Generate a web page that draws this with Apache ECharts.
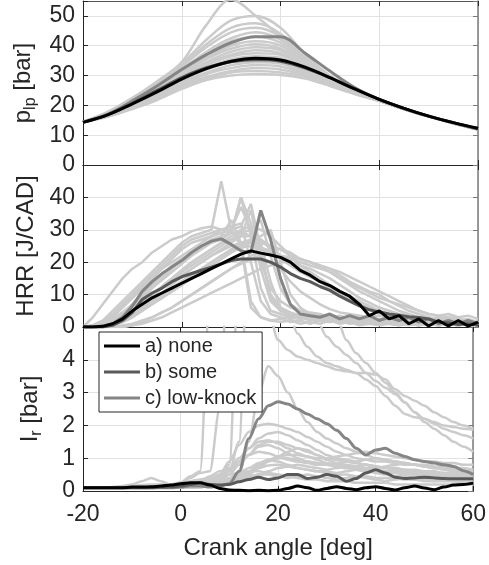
<!DOCTYPE html>
<html>
<head>
<meta charset="utf-8">
<script src="https://cdn.jsdelivr.net/npm/echarts@6/dist/echarts.min.js"></script>
<style>
  html, body { margin: 0; padding: 0; background: #fff; }
  #main { width: 489px; height: 565px; }
</style>
</head>
<body>
<div id="main"></div>
<script>
// crank angle grids
var paX = [-20,-15,-10,-5,0,5,10,15,20,25,30,35,40,45,50,55,60];
var caX = [-20,-18,-16,-14,-12,-10,-8,-6,-4,-2,0,2,4,6,8,10,12,14,16,18,20,22,24,26,28,30,32,34,36,38,40,42,44,46,48,50,52,54,56,58,60];

var legendNames = ['a) none', 'b) some', 'c) low-knock'];

// p_lp [bar]
var pNone = [14.3,16.8,20.5,24.5,28.8,32.3,34.8,35.8,35.2,32.8,29.3,25.5,22,19,16.4,14.2,12.3];
var pSome = [14.3,16.9,20.7,25,29.3,32.6,34.6,35.3,34.8,32.5,29.3,25.6,22,19,16.4,14.2,12.2];
var pLow  = [14.3,17,21.5,26.5,32,37,41,43,43,37.5,31.5,26,22,19,16.4,14.2,12];
var pCycles = [
  [14.5,17.8,22.5,28,34.5,47,55.5,50,43,35,29,24.5,21.5,18.8,16.3,14,12],
  [14.5,17.6,22,28,34,42,48.5,50,46,37,30,25,21.7,18.8,16.3,14,12],
  [14.5,17.5,21.8,27.5,33.5,40.5,46,47.5,44,36,29.5,25,21.6,18.8,16.3,14,12],
  [14.5,17.4,21.5,27,33,39.5,44.5,46,43,35.5,29.5,25,21.6,18.8,16.3,14,12],
  [14.5,17.3,21.3,26.5,32,38,42.5,44.5,42,35,29,24.8,21.6,18.8,16.3,14,12],
  [14.5,17.2,21,26,31.5,37,41.5,43,41,34.5,29,24.8,21.6,18.8,16.3,14,12],
  [14.5,17.2,21,26,31,36,40,41.5,40,34,28.8,24.7,21.6,18.8,16.3,14,12],
  [14.5,17.1,20.8,25.5,30.5,35.5,39,40.5,39,33.5,28.5,24.6,21.6,18.8,16.3,14,12],
  [14.5,17,20.6,25,30,34.5,38,39.5,38.5,33.5,28.5,24.6,21.6,18.8,16.3,14,12],
  [14.5,17,20.5,24.8,29.5,34,37,38.5,37.5,33,28.3,24.5,21.6,18.8,16.3,14,12],
  [14.5,16.9,20.3,24.5,29,33.5,36.5,37.5,37,32.5,28.2,24.5,21.6,18.8,16.3,14,12],
  [14.5,16.8,20.2,24.2,28.5,32.5,35.5,36.5,36,32,28,24.4,21.6,18.8,16.3,14,12],
  [14.5,16.7,20,23.8,28,32,34.5,35.5,35,31.5,27.8,24.3,21.6,18.8,16.3,14,12],
  [14.5,16.6,19.8,23.5,27.5,31,33.5,34.5,34,31,27.5,24.2,21.6,18.8,16.3,14,12],
  [14.5,16.5,19.5,23,27,30.5,32.5,33.5,33,30.5,27.3,24.1,21.5,18.8,16.3,14,12],
  [14.5,16.4,19.3,22.5,26.5,29.5,31.5,32.5,32,30,27,24,21.5,18.8,16.3,14,12],
  [14.5,16.3,19,22,26,29,31,31.5,31,29.5,26.8,23.9,21.5,18.8,16.3,14,12],
  [14.5,16.2,18.8,21.8,25.5,28.5,30,30.5,30.2,29,26.5,23.8,21.5,18.8,16.3,14,12]
];

// HRR [J/CAD]
var hNone = [0,0,0.2,1,2.5,5,7,9,10.5,12,13.5,15,16.5,18,19.5,21,22.5,23.5,22.8,22.2,21.5,20,17.5,16,14,12.8,11,9.5,7,3.5,5,2.5,3.5,1,2.5,0.3,2,0.3,2,0.3,1.5];
var hSome = [0,0,0,0.5,2,4.5,8.5,10.5,12,14,15.5,16.5,17.5,18.5,19.5,20.5,21,21,21,20,18.5,16.5,15,14,12.5,11.3,9.5,8,6.5,5.3,4.6,4,3.6,3.2,2.9,2.5,1.5,1.2,0.8,1,0.5];
var hLow  = [0,0,0.3,1,3,6.5,11,14,16.5,18.5,20.5,23,25,26.5,27.2,25.5,23.5,23,36,27,15,7,4,3.5,3,4,2.5,3.5,2.5,3.5,2,3,2,3,1.5,2.5,1,2,1,2,1];
var hCycles = [
  [0,0.5,2,5,8,11,14,17,20,23,26,28,29,30,45,30,25,6,3,2,2.5,1.5,2,1,2,1.5,2.5,1,2,1,1.5,1,2,0.5,1.5,1,2,0.5,1.5,1,1],
  [0,3,7,11,15,18,20,23,25,27,28,29.5,30.5,31,30,29,40,28,12,5,4,3,2.5,3,2,2.5,1.5,2,1,1.5,1,2,1,1.5,0.5,1.5,1,1,0.5,1,0.5],
  [0,0.5,2,4,7,10,13,16,19,22,25,27,28,29,30,30,31,38,24,9,5,3.5,3,4,2.5,3,2,2.5,1.5,2,1,1.5,2,1,1.5,1,2,1,1.5,1,1],
  [0,0,1,3,6,9,12,15,18,21,24,26,27,28,29,30,37,30,20,12,8,6,5,4.5,4,3,3.5,2.5,3,2,2.5,1.5,2,1,1.5,1,2,0.5,1.5,1,1],
  [0,0,0.5,2,4,7,10,13,16,19,21,23,25,27,28,29,29.5,28,27,25,22,20,18,16,14,12,10,8.5,7,5.5,4,3,2.5,2,1.5,1,1.5,0.5,1,0.5,1],
  [0,0,0,0.5,1.5,3,5,7,9,11,13,15,17,19,21,23,25,26,26,25,24,22,21,20,19,18,16,14,12.5,11,10,8,6.5,5,4,3,2.5,3,2,2.5,1.5],
  [0,0,0.5,1.5,3.5,6,9,12,15,18,21,23,25,26,27,29,40,32,18,8,5,4,3.5,3,3.5,2.5,3,2,2.5,1.5,2,1,1.5,1,1.5,0.5,1,0.5,1,0.5,1],
  [0,0,0,1,2.5,4.5,7,9.5,12,14.5,17,19,21,23,25,27,29,30,33,22,12,7,5,4,3,3.5,2.5,3,2,2.5,1.5,2,1,1.5,1,1.5,0.5,1,0.5,1,0.5],
  [0,0,0,0,0.5,1,2,3,4.5,6,8,10,12,14,16,18,20,22,23,24,24,23,21,20,18.5,17,15,13,11,9.5,8,6.5,5,4,3,2.5,2,2.5,1.5,2,1],
  [0,0,0.5,2,4,6,8,10,12,14,16,18,20,22,23.5,25,26,27,28,30,20,10,6,4,3,2.5,3,2,2.5,1.5,2,1,1.5,1,1.5,0.5,1,0.5,1,0.5,1],
  [0,0,0,1,2,4,6,8,10,12,14,16,18,20,22,23.5,25,25,24,23,21,19,17,15.5,14,12.5,11,9.5,8,6.5,5,4,3,2,1.5,1,0.5,1,0.5,1,0.5],
  [0,0.5,1.5,3.5,6,9,12,15,18,20,22,24,26,28,30,31,32,20,8,4,3,2.5,3,2,2.5,1.5,2,1,1.5,1,1.5,1,0.5,1,0.5,1,0.5,1,0.5,1,0.5],
  [0,0,0.5,1.5,3,5,7.5,10,12.5,15,17.5,20,22,24,26,28,30,31,30,28,25,22,19,17,15,13,11,9,7.5,6,5,4,3,2.5,2,2.5,1.5,2,1,1.5,1],
  [0,0,0,0.5,2,3.5,5.5,8,10.5,13,15.5,18,20,22,24,26,28,36,22,10,6,4.5,3.5,4,3,3.5,2.5,3,2,2.5,1.5,2,1,1.5,0.5,1,0.5,1.5,0.5,1,0.5],
  [0,0,0,0,0,0.5,1.5,3,4.5,6,8,10,12,14,16,18,19.5,21,22,22.5,22,21.5,21,20,19,18,17,15.5,14,12.5,11,9.5,8,6.5,5,4,3.5,3,2.5,2,1.5],
  [0,0,1,2.5,4.5,7,9.5,12,14.5,17,19.5,22,24,26,28,33,26,8,3,2,1.5,2,1,1.5,1,2,1,1.5,0.5,1,0.5,1,0.5,1,0.5,1,0.5,1,0.5,1,0.5],
  [0,0,0,1,2.5,4,6,8,10,12,14,16,18,20,22,24,25.5,26.5,27,24,18,14,11,9,7,5.5,4.5,4,3.5,3,3.5,2.5,3,2,2.5,1.5,2,1,1.5,1,1.5],
  [0,0,0,0.5,1.5,3,5,7,9,11,13,15,17,19,21,23,24.5,25,24.5,23.5,22,21,20,19,18,17,15,13.5,12,10.5,9,8,7,6,5,4,3.5,4,3,3.5,2.5],
  [0,0,0.5,1.5,3,5,7.5,10,12.5,15,17.5,20,22,24,26,27,28,28,26,14,6,4,3,3.5,2.5,3,2,2.5,1.5,2,1,1.5,1,2,1,1.5,0.5,1,0.5,1,0.5],
  [0,0,0,0,0,0.5,1,2,3,4.5,6,7.5,9,10.5,12,13.5,15,16.5,18,19,20,20,19,18,16.5,15,13,11,9,7.5,6,5,4,3.5,3,2.5,3,2,2.5,1.5,2]
];

// I_r [bar]
var iNone = [0.1,0.1,0.1,0.1,0.1,0.12,0.12,0.13,0.15,0.18,0.22,0.25,0.25,0.18,0.08,0.03,0.02,0.01,0.02,0.01,0.02,0.08,0.15,0.1,0.02,0.08,0.13,0.08,0.04,0.1,0.13,0.08,0.03,0.1,0.15,0.09,0.04,0.12,0.18,0.2,0.24];
var iSome = [0.1,0.1,0.1,0.1,0.1,0.1,0.1,0.1,0.12,0.13,0.15,0.2,0.25,0.2,0.18,0.2,0.28,0.35,0.42,0.35,0.4,0.5,0.5,0.38,0.42,0.5,0.45,0.3,0.38,0.55,0.65,0.55,0.42,0.38,0.4,0.42,0.4,0.38,0.37,0.37,0.37];
var iLow  = [0.1,0.1,0.1,0.1,0.1,0.1,0.1,0.1,0.1,0.1,0.12,0.15,0.15,0.12,0.15,0.22,0.6,1.6,2.2,2.6,2.72,2.65,2.5,2.35,2.2,2.05,1.85,1.6,1.3,1.1,1.25,1.3,1.15,1.05,0.95,0.9,0.85,0.8,0.75,0.62,0.5];
var iCycles = [
  [0.1,0.1,0.1,0.12,0.15,0.2,0.3,0.4,0.3,0.2,0.25,0.45,0.6,6,8,8,8,8,7,5.5,4.6,4.3,4.1,4,3.9,3.8,3.7,3.65,3.6,3.6,3.55,3.4,3.1,2.9,2.75,2.6,2.4,2.25,2.1,2,1.9],
  [0.1,0.1,0.1,0.1,0.1,0.1,0.12,0.15,0.18,0.2,0.25,0.4,0.55,0.6,2.5,8,8,8,8,8,7,5.5,4.8,4.4,4.1,3.9,3.8,3.7,3.6,3.4,3.2,2.9,2.6,2.35,2.25,2.2,2.05,1.9,1.8,1.7,1.6],
  [0.1,0.1,0.1,0.1,0.1,0.1,0.1,0.12,0.12,0.15,0.18,0.2,0.25,0.3,0.4,0.8,7,8,8,8,8,8,7,6,5.2,4.7,4.4,4.15,3.9,3.6,3.35,3.15,2.95,2.7,2.4,2.2,2.1,2,1.95,1.9,1.87],
  [0.1,0.1,0.1,0.1,0.1,0.1,0.1,0.1,0.12,0.15,0.2,0.25,0.3,0.4,0.5,0.6,1.5,8,8,8,8,8,8,8,8,7,5.3,4.6,4.2,3.9,3.6,3.3,3,2.7,2.4,2.1,1.9,1.7,1.5,1.35,1.2],
  [0.1,0.1,0.1,0.1,0.1,0.1,0.1,0.1,0.12,0.15,0.2,0.25,0.3,0.35,0.5,0.9,1.4,1.8,2,2.05,2,1.9,1.8,1.65,1.5,1.35,1.2,1.1,1,0.95,0.9,0.9,0.85,0.8,0.8,0.75,0.7,0.7,0.65,0.6,0.6],
  [0.1,0.1,0.1,0.1,0.1,0.1,0.1,0.1,0.1,0.1,0.1,0.12,0.15,0.2,0.3,0.5,0.8,1.1,1.4,1.5,1.5,1.4,1.3,1.2,1.1,1,0.95,0.9,0.85,0.8,0.75,0.7,0.7,0.65,0.6,0.6,0.55,0.55,0.5,0.5,0.5],
  [0.1,0.1,0.1,0.1,0.1,0.1,0.1,0.1,0.1,0.1,0.1,0.12,0.15,0.2,0.35,0.6,0.9,1.1,1.2,1.15,1.05,0.95,0.9,0.85,0.8,0.8,0.75,0.7,0.65,0.6,0.6,0.6,0.55,0.55,0.5,0.5,0.5,0.45,0.45,0.45,0.4],
  [0.1,0.1,0.1,0.1,0.1,0.1,0.1,0.1,0.1,0.1,0.1,0.1,0.12,0.15,0.2,0.3,0.45,0.6,0.75,0.9,1,1,0.95,0.9,0.85,0.8,0.85,0.9,0.85,0.8,0.75,0.7,0.7,0.65,0.65,0.6,0.6,0.55,0.55,0.5,0.5],
  [0.1,0.1,0.1,0.1,0.1,0.1,0.1,0.1,0.1,0.1,0.1,0.1,0.12,0.15,0.2,0.3,0.4,0.55,0.7,0.78,0.8,0.75,0.7,0.65,0.6,0.55,0.5,0.5,0.45,0.45,0.4,0.4,0.4,0.35,0.35,0.35,0.3,0.3,0.3,0.3,0.3],
  [0.1,0.1,0.1,0.1,0.1,0.1,0.1,0.1,0.1,0.1,0.12,0.15,0.18,0.2,0.3,0.5,0.9,1.3,1.6,1.75,1.8,1.7,1.55,1.4,1.25,1.1,1,0.95,0.9,0.95,1,0.95,0.9,0.85,0.8,0.8,0.75,0.75,0.7,0.7,0.65],
  [0.1,0.1,0.1,0.1,0.1,0.1,0.1,0.1,0.1,0.1,0.1,0.1,0.12,0.15,0.2,0.25,0.35,0.5,0.7,0.9,1.05,1.2,1.3,1.25,1.1,0.95,0.85,0.8,0.75,0.7,0.7,0.75,0.8,0.85,0.8,0.75,0.7,0.65,0.6,0.55,0.5],
  [0.1,0.1,0.1,0.1,0.12,0.15,0.18,0.2,0.2,0.2,0.25,0.3,0.35,0.4,0.45,0.5,0.55,0.6,0.6,0.55,0.5,0.45,0.4,0.35,0.35,0.3,0.3,0.3,0.25,0.25,0.25,0.25,0.2,0.2,0.2,0.2,0.2,0.2,0.2,0.2,0.2],
  [0.1,0.1,0.1,0.1,0.1,0.1,0.1,0.1,0.1,0.1,0.12,0.15,0.2,0.25,0.3,0.35,0.4,0.45,0.5,0.5,0.45,0.4,0.45,0.5,0.45,0.4,0.35,0.4,0.45,0.4,0.35,0.3,0.35,0.4,0.35,0.3,0.3,0.35,0.3,0.25,0.3],
  [0.1,0.1,0.1,0.1,0.1,0.1,0.1,0.1,0.1,0.1,0.1,0.1,0.12,0.15,0.2,0.3,0.45,0.6,0.8,0.95,1.05,1.1,1.1,1.05,1,1,1.05,1.1,1.15,1.2,1.15,1.1,1.05,1,0.95,0.9,0.9,0.85,0.85,0.8,0.8],
  [0.1,0.1,0.1,0.1,0.1,0.1,0.1,0.1,0.1,0.1,0.1,0.12,0.15,0.2,0.25,0.3,0.5,1.5,3,3.8,3.5,3,2.5,2.1,1.8,1.6,1.45,1.3,1.2,1.1,1,0.95,0.9,0.85,0.8,0.75,0.7,0.7,0.65,0.6,0.6],
  [0.1,0.1,0.1,0.1,0.1,0.1,0.1,0.1,0.1,0.1,0.1,0.12,0.15,0.2,0.28,0.4,0.55,0.7,0.85,0.95,0.9,0.8,0.7,0.65,0.6,0.6,0.55,0.6,0.65,0.6,0.55,0.5,0.45,0.45,0.4,0.4,0.4,0.35,0.35,0.35,0.35],
  [0.1,0.1,0.1,0.1,0.1,0.1,0.1,0.1,0.1,0.1,0.12,0.15,0.2,0.3,0.45,0.7,1,1.3,1.5,1.55,1.45,1.3,1.15,1.05,0.95,0.85,0.8,0.75,0.7,0.7,0.65,0.6,0.6,0.55,0.55,0.5,0.5,0.45,0.45,0.45,0.4],
  [0.1,0.1,0.1,0.1,0.1,0.1,0.1,0.1,0.1,0.1,0.1,0.1,0.12,0.15,0.18,0.22,0.3,0.4,0.5,0.6,0.7,0.75,0.8,0.75,0.7,0.65,0.7,0.75,0.7,0.65,0.6,0.55,0.55,0.5,0.5,0.45,0.45,0.4,0.4,0.4,0.4],
  [0.1,0.1,0.1,0.1,0.1,0.1,0.1,0.1,0.1,0.1,0.15,0.2,0.3,0.45,0.6,0.65,0.8,1.1,1.35,1.4,1.3,1.15,1,0.9,0.85,0.8,0.75,0.7,0.75,0.8,0.75,0.7,0.65,0.6,0.6,0.55,0.55,0.5,0.5,0.5,0.45]
];

var FONT = 'Liberation Sans, Arial, Helvetica, sans-serif';
var TXT = '#262626';
var C_BG = '#cbcbcb', C_NONE = '#000000', C_SOME = '#595959', C_LOW = '#858585';

var panels = [
  { top: 1,   height: 164, max: 55, step: 10, name: '{m|p}{s|lp}{m| [bar]}' },
  { top: 165, height: 162, max: 50, step: 10, name: '{m|HRR [J/CAD]}' },
  { top: 327, height: 164, max: 5,  step: 1,  name: '{m|I}{s|r}{m| [bar]}' }
];

var grids = [], xAxes = [], yAxes = [], series = [];

panels.forEach(function (p, g) {
  grids.push({ left: 83, right: 11, top: p.top, height: p.height });
  var last = g === panels.length - 1;
  xAxes.push({
    type: 'value', gridIndex: g, position: 'bottom', min: -20, max: 60, interval: 20,
    name: last ? 'Crank angle [deg]' : '', nameLocation: 'middle', nameGap: 45,
    nameTextStyle: { fontSize: 24, color: TXT, fontFamily: FONT },
    axisLine: { show: true, onZero: false, lineStyle: { color: TXT, width: 1 } },
    axisTick: { show: true, inside: true, length: 5, lineStyle: { color: TXT } },
    axisLabel: { show: last, fontSize: 23, color: TXT, fontFamily: FONT, margin: 12 },
    splitLine: { show: true, lineStyle: { color: '#e2e2e2', width: 1 } }
  });
  xAxes.push({
    type: 'value', gridIndex: g, position: 'top', min: -20, max: 60, interval: 20,
    axisLine: { show: true, onZero: false, lineStyle: { color: g === 0 ? '#555' : TXT, width: 1 } },
    axisTick: { show: true, inside: true, length: 5, lineStyle: { color: TXT } },
    axisLabel: { show: false }, splitLine: { show: false }
  });
  yAxes.push({
    type: 'value', gridIndex: g, position: 'left', min: 0, max: p.max, interval: p.step,
    name: p.name, nameLocation: 'middle', nameRotate: 90, nameGap: 38,
    nameTextStyle: {
      color: TXT, fontFamily: FONT, fontSize: 24,
      rich: {
        m: { fontSize: 24, color: TXT, fontFamily: FONT },
        s: { fontSize: 16, color: TXT, fontFamily: FONT, padding: [14, 0, 0, 0] }
      }
    },
    axisLine: { show: true, onZero: false, lineStyle: { color: TXT, width: 1 } },
    axisTick: { show: true, inside: true, length: 5, lineStyle: { color: TXT } },
    axisLabel: {
      fontSize: 23, color: TXT, fontFamily: FONT, margin: 8,
      formatter: function (v) { return v < p.max ? String(v) : ''; }
    },
    splitLine: { show: true, lineStyle: { color: '#e2e2e2', width: 1 } }
  });
  yAxes.push({
    type: 'value', gridIndex: g, position: 'right', min: 0, max: p.max, interval: p.step,
    axisLine: { show: true, onZero: false, lineStyle: { color: '#7a7a7a', width: 1.5 } },
    axisTick: { show: true, inside: true, length: 5, lineStyle: { color: '#7a7a7a' } },
    axisLabel: { show: false }, splitLine: { show: false }
  });
});

function addLine(g, xs, ys, color, width, name, smooth, mono) {
  series.push({
    type: 'line', name: name, xAxisIndex: g * 2, yAxisIndex: g * 2,
    data: xs.map(function (x, i) { return [x, ys[i]]; }),
    symbol: 'none', smooth: smooth, smoothMonotone: mono ? 'x' : null,
    clip: true, silent: true,
    lineStyle: { color: color, width: width }, itemStyle: { color: color }
  });
}

pCycles.forEach(function (ys) { addLine(0, paX, ys, C_BG, 2.5, '', 0.35, false); });
addLine(0, paX, pLow, C_LOW, 3, legendNames[2], 0.35, false);
addLine(0, paX, pSome, C_SOME, 3, legendNames[1], 0.35, false);
addLine(0, paX, pNone, C_NONE, 3, legendNames[0], 0.35, false);

hCycles.forEach(function (ys) { addLine(1, caX, ys, C_BG, 2.5, '', false, false); });
addLine(1, caX, hLow, C_LOW, 3, legendNames[2], false, false);
addLine(1, caX, hSome, C_SOME, 3, legendNames[1], false, false);
addLine(1, caX, hNone, C_NONE, 3, legendNames[0], false, false);

iCycles.forEach(function (ys) { addLine(2, caX, ys, C_BG, 2.5, '', 0.3, true); });
addLine(2, caX, iLow, C_LOW, 3, legendNames[2], 0.3, true);
addLine(2, caX, iSome, C_SOME, 3, legendNames[1], 0.3, true);
addLine(2, caX, iNone, C_NONE, 3, legendNames[0], 0.3, true);

var option = {
  backgroundColor: '#fff',
  animation: false,
  grid: grids,
  xAxis: xAxes,
  yAxis: yAxes,
  legend: {
    data: legendNames, orient: 'vertical', left: 99, top: 332,
    icon: 'rect', itemWidth: 36, itemHeight: 3, itemGap: 6, padding: [4, 6, 4, 5],
    backgroundColor: '#fff', borderColor: TXT, borderWidth: 1, borderRadius: 0,
    selectedMode: false,
    textStyle: { fontSize: 20, color: TXT, fontFamily: FONT }
  },
  series: series
};

var chart = echarts.init(document.getElementById('main'), null, { renderer: 'canvas' });
chart.setOption(option);
</script>
</body>
</html>
